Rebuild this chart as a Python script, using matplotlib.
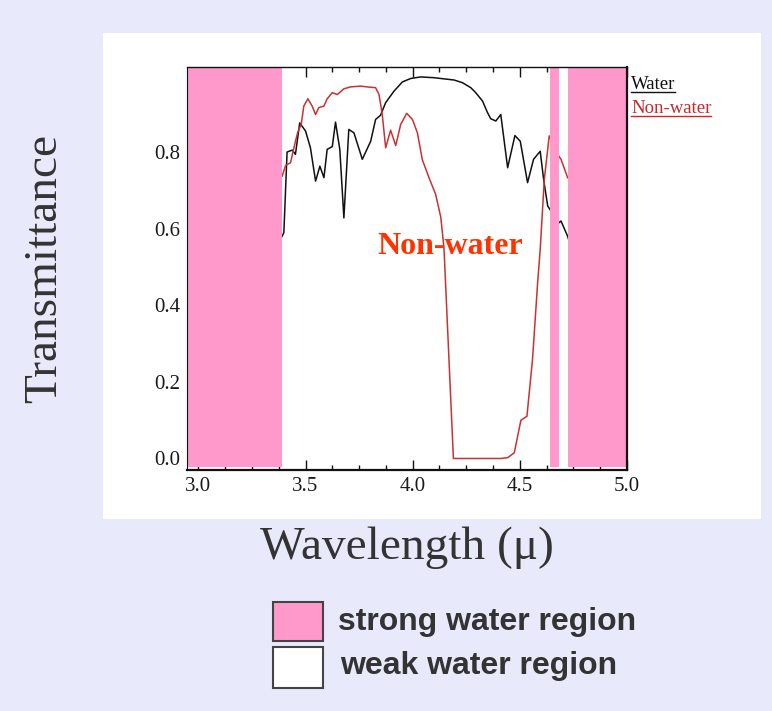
import matplotlib
matplotlib.use("Agg")
import matplotlib.pyplot as plt
from matplotlib.patches import Rectangle
from matplotlib.lines import Line2D
from matplotlib.ticker import MultipleLocator

# transmittance curves
water_x = [3.391, 3.399, 3.414, 3.438, 3.453, 3.473, 3.500, 3.523, 3.547, 3.567, 3.586, 3.601,
           3.625, 3.640, 3.660, 3.679, 3.702, 3.726, 3.765, 3.804, 3.827, 3.850, 3.874, 3.913,
           3.952, 3.991, 4.037, 4.100, 4.146, 4.193, 4.232, 4.271, 4.294, 4.326, 4.349, 4.364,
           4.388, 4.411, 4.443, 4.477, 4.502, 4.536, 4.564, 4.595, 4.611, 4.630, 4.682, 4.692,
           4.723, 4.990, 5.000]
water_y = [0.58, 0.59, 0.80, 0.805, 0.794, 0.876, 0.855, 0.811, 0.724, 0.763, 0.733, 0.807,
           0.814, 0.878, 0.807, 0.628, 0.859, 0.850, 0.781, 0.828, 0.885, 0.896, 0.929, 0.959,
           0.983, 0.992, 0.996, 0.994, 0.991, 0.988, 0.981, 0.968, 0.955, 0.933, 0.903, 0.887,
           0.881, 0.898, 0.759, 0.843, 0.828, 0.720, 0.781, 0.802, 0.728, 0.659, 0.615, 0.620,
           0.580, 0.10, 0.04]

nonwater_x = [3.391, 3.407, 3.430, 3.453, 3.464, 3.480, 3.492, 3.511, 3.531, 3.547, 3.562, 3.586,
              3.601, 3.625, 3.648, 3.679, 3.710, 3.757, 3.804, 3.827, 3.843, 3.858, 3.874, 3.897,
              3.921, 3.944, 3.972, 3.999, 4.022, 4.045, 4.076, 4.107, 4.131, 4.146, 4.190, 4.411,
              4.443, 4.474, 4.505, 4.533, 4.559, 4.583, 4.595, 4.614, 4.637, 4.682, 4.692, 4.723]
nonwater_y = [0.737, 0.765, 0.772, 0.828, 0.852, 0.872, 0.920, 0.939, 0.920, 0.898, 0.916, 0.920,
              0.939, 0.955, 0.950, 0.965, 0.970, 0.972, 0.969, 0.968, 0.950, 0.898, 0.811, 0.857,
              0.817, 0.872, 0.901, 0.885, 0.850, 0.780, 0.733, 0.690, 0.630, 0.550, 0.0, 0.0,
              0.002, 0.015, 0.100, 0.110, 0.258, 0.459, 0.546, 0.728, 0.842, 0.789, 0.781, 0.733]

# strong water bands (wavelength ranges)
bands = [(2.947, 3.39), (4.642, 4.683), (4.726, 4.995)]

xticks = [3.0, 3.5, 4.0, 4.5, 5.0]
yticks = [0.0, 0.2, 0.4, 0.6, 0.8]

bg = "#E8EAFB"
pink = "#FF99CC"
serif = ["Liberation Serif", "DejaVu Serif"]

fig = plt.figure(figsize=(7.72, 7.11), dpi=100, facecolor=bg)

# white panel behind the plot
fig.patches.append(Rectangle((0.1334, 0.270), 0.8524, 0.6836, transform=fig.transFigure,
                             facecolor="white", edgecolor="none", zorder=-5))

ax = fig.add_axes([0.2422, 0.339, 0.570, 0.5668])
ax.set_facecolor("white")
ax.plot(water_x, water_y, color="#111111", lw=1.1, zorder=2)
ax.plot(nonwater_x, nonwater_y, color="#C83232", lw=1.1, zorder=2)
for a, b in bands:
    ax.axvspan(a, b, ymin=0.008, ymax=1.0, facecolor=pink, edgecolor="none", zorder=3)

ax.set_xlim(2.947, 5.0)
ax.set_ylim(-0.03, 1.022)
ax.set_xticks(xticks)
ax.set_xticklabels(["%.1f" % v for v in xticks])
ax.set_yticks(yticks)
ax.set_yticklabels(["%.1f" % v for v in yticks])
ax.xaxis.set_minor_locator(MultipleLocator(0.125))
ax.yaxis.set_minor_locator(MultipleLocator(0.05))
ax.tick_params(which="both", direction="in", top=True, right=True, color="#111111")
ax.tick_params(which="major", length=7, width=1.0)
ax.tick_params(which="minor", length=3.5, width=1.0)
ax.tick_params(axis="x", pad=5)
ax.tick_params(axis="y", pad=5)
for lab in ax.get_xticklabels() + ax.get_yticklabels():
    lab.set_family(serif)
    lab.set_fontsize(15)
    lab.set_color("#1a1a1a")
for sp in ax.spines.values():
    sp.set_color("#111111")
    sp.set_zorder(4)
ax.spines["left"].set_linewidth(0.8)
ax.spines["top"].set_linewidth(1.0)
ax.spines["right"].set_linewidth(1.6)
ax.spines["bottom"].set_linewidth(1.6)

ax.text(4.173, 0.553, "Non-water", color="#FF3300", fontsize=23, fontweight="bold",
        family=serif, ha="center", va="center", zorder=5)

# small legend at top right, underlined
t1 = fig.text(0.8174, 0.8805, "Water", color="#111111", fontsize=13.5, family=serif,
              ha="left", va="center")
t2 = fig.text(0.8174, 0.8467, "Non-water", color="#C82828", fontsize=13.5, family=serif,
              ha="left", va="center")
fig.canvas.draw()
inv = fig.transFigure.inverted()
for t, c in [(t1, "#111111"), (t2, "#C82828")]:
    bb = t.get_window_extent().transformed(inv)
    fig.add_artist(Line2D([bb.x0, bb.x1], [bb.y0 + 0.002, bb.y0 + 0.002], color=c, lw=1.0,
                          transform=fig.transFigure))

fig.text(0.058, 0.622, "Transmittance", rotation=90, fontsize=34, family=serif,
         color="#333333", ha="center", va="center")
fig.text(0.527, 0.229, "Wavelength (μ)", fontsize=34, family=serif,
         color="#333333", ha="center", va="center")

# region key at the bottom
fig.patches.append(Rectangle((0.3536, 0.0985), 0.0648, 0.0549, transform=fig.transFigure,
                             facecolor=pink, edgecolor="#444444", lw=1.5))
fig.patches.append(Rectangle((0.3536, 0.0323), 0.0648, 0.0577, transform=fig.transFigure,
                             facecolor="white", edgecolor="#444444", lw=1.5))
fig.text(0.4378, 0.1139, "strong water region", fontsize=23, fontweight="bold",
         family=["Liberation Sans", "DejaVu Sans"], color="#333333", ha="left", va="baseline")
fig.text(0.4404, 0.0520, "weak water region", fontsize=23, fontweight="bold",
         family=["Liberation Sans", "DejaVu Sans"], color="#333333", ha="left", va="baseline")

fig.savefig("out.png", dpi=100, facecolor=bg)
